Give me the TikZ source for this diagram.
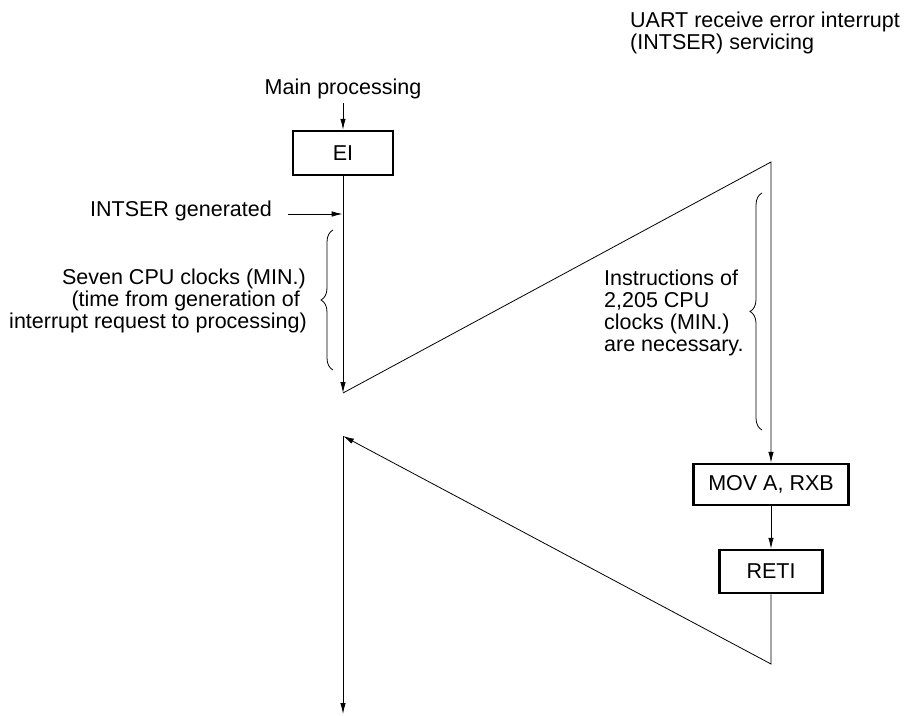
\documentclass[tikz,border=0pt]{standalone}
\usepackage{fontspec}
\setmainfont{Liberation Sans}
\usetikzlibrary{arrows.meta,decorations.pathreplacing}
\begin{document}
\begin{tikzpicture}[x=1pt,y=-1pt,
  txt/.style={font=\fontsize{21.5}{25}\selectfont, inner sep=0pt},
  box/.style={draw, line width=2.5pt, inner sep=0pt, font=\fontsize{21.5}{25}\selectfont},
  conn/.style={line width=0.8pt},
  arr/.style={conn, -{Latex[length=11pt,width=5.5pt]}},
  brc/.style={decorate, decoration={brace, amplitude=12pt}, line width=0.8pt}]
\useasboundingbox (0,0) rectangle (905,715);
% texts
\node[txt, anchor=base] (mainp) at (343,94) {Main processing};
\node[txt, anchor=base west] (uart1) at (630,27) {UART receive error interrupt};
\node[txt, anchor=base west] (uart2) at (630,49) {(INTSER) servicing};
\node[txt, anchor=base east] (intser) at (272,216) {INTSER generated};
\node[txt, anchor=base east] (s1) at (306,284) {Seven CPU clocks (MIN.)};
\node[txt, anchor=base east] (s2) at (300,306) {(time from generation of};
\node[txt, anchor=base east] (s3) at (307,328) {interrupt request to processing)};
\node[txt, anchor=base west] (i1) at (604,285) {Instructions of};
\node[txt, anchor=base west] (i2) at (604,307) {2,205 CPU};
\node[txt, anchor=base west] (i3) at (604,329) {clocks (MIN.)};
\node[txt, anchor=base west] (i4) at (604,351) {are necessary.};
% boxes
\node[box, minimum width=100pt, minimum height=44pt] (ei) at (343,153) {EI};
\node[box, minimum width=155pt, minimum height=41pt] (mov) at (771,484.5) {MOV A, RXB};
\node[box, minimum width=103pt, minimum height=43pt] (reti) at (771,571.5) {RETI};
% coordinates
\coordinate (mtop) at (343,103);
\coordinate (l1) at (343,393);
\coordinate (r1) at (771,162);
\coordinate (r2) at (771,664);
\coordinate (l2) at (343,436);
\coordinate (l3) at (343,714);
\coordinate (ia) at (288,214);
\coordinate (ib) at (342.6,214);
% connectors
\draw[arr] (mtop) -- (ei.north);
\draw[arr] (ei.south) -- (l1);
\draw[arr] (l1) -- (r1) -- (mov.north);
\draw[arr] (mov.south) -- (reti.north);
\draw[arr] (reti.south) -- (r2) -- (l2);
\draw[arr] (l2) -- (l3);
\draw[arr] (ia) -- (ib);
% braces
\draw[brc] (333,370) -- (333,230);
\draw[brc] (762,430) -- (762,193);
\end{tikzpicture}
\end{document}
